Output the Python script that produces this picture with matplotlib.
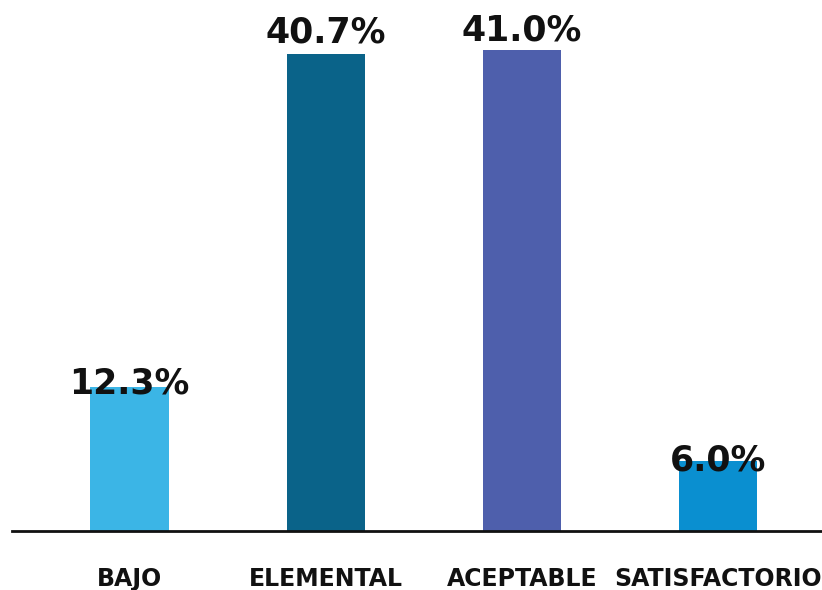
import matplotlib
matplotlib.use("Agg")
import matplotlib.pyplot as plt

categories = ["BAJO", "ELEMENTAL", "ACEPTABLE", "SATISFACTORIO"]
values = [12.3, 40.7, 41.0, 6.0]
value_labels = ["12.3%", "40.7%", "41.0%", "6.0%"]
colors = ["#3BB5E6", "#0A6389", "#4E5FAC", "#0A8FD0"]
# label baseline offset from bar top, in points
label_offsets = [-5, 8, 7, -7]

fig = plt.figure(figsize=(8.22, 5.90), dpi=100)
ax = fig.add_axes([12 / 822, 0.1, 1 - 12 / 822, 0.9])

x = range(len(categories))
ax.bar(x, values, width=0.40, color=colors)

for i, (v, lab, off) in enumerate(zip(values, value_labels, label_offsets)):
    ax.annotate(lab, (i, v), xytext=(0, off), textcoords="offset points",
                ha="center", va="baseline", fontsize=25, fontweight="heavy",
                color="#111111")

ax.set_xlim(-0.6, 3.53)
ax.set_ylim(0, 45.3)
ax.set_xticks(list(x))
ax.set_xticklabels(categories, fontsize=17, fontweight="heavy", color="#111111")
ax.tick_params(axis="x", length=0, pad=26)
ax.set_yticks([])
for side in ["top", "right", "left"]:
    ax.spines[side].set_visible(False)
ax.spines["bottom"].set_linewidth(2)
ax.spines["bottom"].set_color("#111111")

fig.savefig("out.png", dpi=100)
